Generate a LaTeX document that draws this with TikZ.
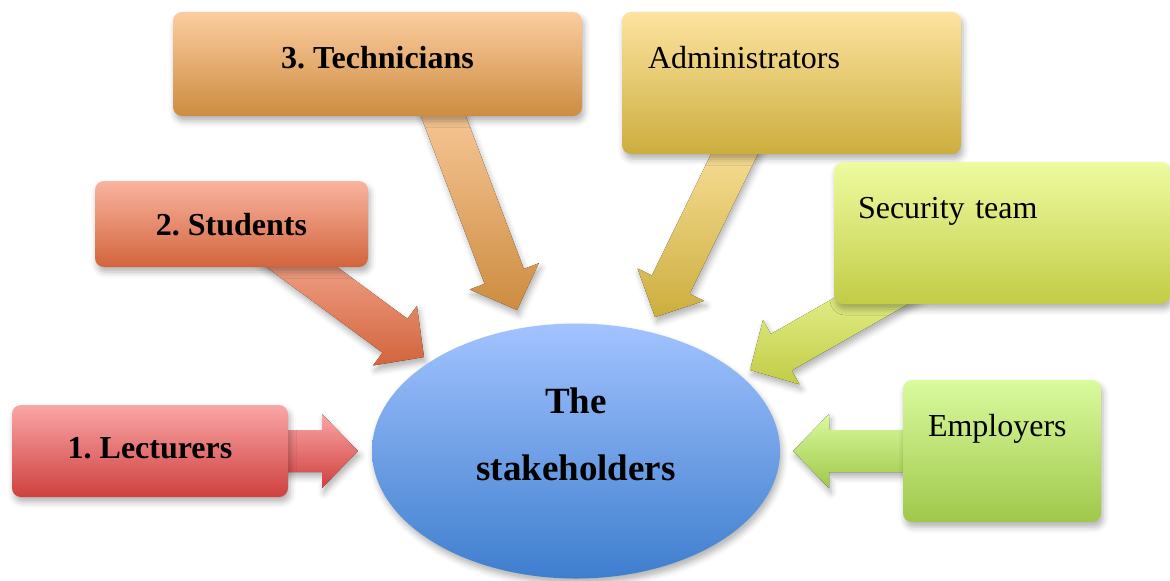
\documentclass[tikz,border=0pt]{standalone}
\usepackage{fontspec}
\setmainfont{Liberation Serif}
\usetikzlibrary{calc,shapes.geometric,shadows.blur}
\frenchspacing

\definecolor{lecttop}{RGB}{250,166,166}
\definecolor{lectbot}{RGB}{206,64,62}
\definecolor{studtop}{RGB}{250,180,160}
\definecolor{studbot}{RGB}{210,100,60}
\definecolor{techtop}{RGB}{252,205,160}
\definecolor{techbot}{RGB}{205,140,64}
\definecolor{admtop}{RGB}{253,227,160}
\definecolor{admbot}{RGB}{204,174,62}
\definecolor{sectop}{RGB}{238,251,160}
\definecolor{secbot}{RGB}{194,204,70}
\definecolor{emptop}{RGB}{217,250,158}
\definecolor{empbot}{RGB}{160,200,74}
\definecolor{hubtop}{RGB}{163,195,255}
\definecolor{hubbot}{RGB}{62,126,206}

\pgfdeclarelayer{back}
\pgfsetlayers{back,main}

\begin{document}
\begin{tikzpicture}[x=0.5pt, y=-0.5pt,
  soft/.style={blur shadow={shadow xshift=1pt, shadow yshift=-2.5pt, shadow blur radius=3pt, shadow opacity=30}},
  stakebox/.style={rectangle, rounded corners=4.5pt, inner ysep=0pt, soft, font=\fontsize{16}{19}\selectfont},
  boldbox/.style={stakebox, inner xsep=0pt, font=\fontsize{16}{19}\selectfont\bfseries},
  leftbox/.style={stakebox, align=left, text height=28pt, text depth=43pt}]

\useasboundingbox (0,0) rectangle (1170,580);

\node[ellipse, soft, top color=hubtop, bottom color=hubbot, inner sep=0, minimum width=204pt, minimum height=127.5pt,
  label={[yshift=8.5pt, align=center, font=\fontsize{18.5}{33.5}\selectfont\bfseries]center:The\\stakeholders}] (hub) at (576,451) {};

\node[boldbox, top color=lecttop, bottom color=lectbot, minimum width=138pt, text height=26.5pt, text depth=19.5pt] (lect) at (150,451) {1. Lecturers};
\node[boldbox, top color=studtop, bottom color=studbot, minimum width=136.5pt, text height=27pt, text depth=16pt] (stud) at (231.5,224) {2. Students};
\node[boldbox, top color=techtop, bottom color=techbot, minimum width=204.5pt, text height=28pt, text depth=24pt] (tech) at (377.5,64) {3. Technicians};

\node[leftbox, top color=admtop, bottom color=admbot, text width=143.5pt, inner xsep=13pt] (adm) at (791.5,83) {Administrators};
\node[leftbox, top color=sectop, bottom color=secbot, text width=144pt, inner xsep=12pt] (sec) at (1002,233) {Security team};
\node[leftbox, top color=emptop, bottom color=empbot, text width=74pt, inner xsep=12.5pt] (emp) at (1002,451) {Employers};

\coordinate (lectout) at ($(lect.east)+(-8,0)$);
\coordinate (studout) at ($(stud.south)+(34,-27)$);
\coordinate (techout) at ($(tech.south)+(58,-21)$);
\coordinate (admout) at ($(adm.south)+(-48,-19)$);
\coordinate (secout) at ($(sec.south)+(-86,-29)$);
\coordinate (empout) at ($(emp.west)+(7,0)$);

\coordinate (tipL) at (358,451);
\coordinate (tipS) at (424,357);
\coordinate (tipT) at (517,310);
\coordinate (tipA) at (655,317);
\coordinate (tipC) at (750,370);
\coordinate (tipE) at (793,451);

\begin{pgfonlayer}{back}
\foreach \s/\t/\c in {lectout/tipL/lect, studout/tipS/stud, techout/tipT/tech, admout/tipA/adm, secout/tipC/sec, empout/tipE/emp}{
  \coordinate (h) at ($(\t)!18pt!(\s)$);
  \fill[soft, top color=\c top, bottom color=\c bot]
    ($(\s)!10.5pt!-90:(\t)$) -- ($(h)!10.5pt!-90:(\t)$) -- ($(h)!18.5pt!-90:(\t)$) -- (\t)
    -- ($(h)!18.5pt!90:(\t)$) -- ($(h)!10.5pt!90:(\t)$) -- ($(\s)!10.5pt!90:(\t)$) -- cycle;
}
\end{pgfonlayer}

\end{tikzpicture}
\end{document}
